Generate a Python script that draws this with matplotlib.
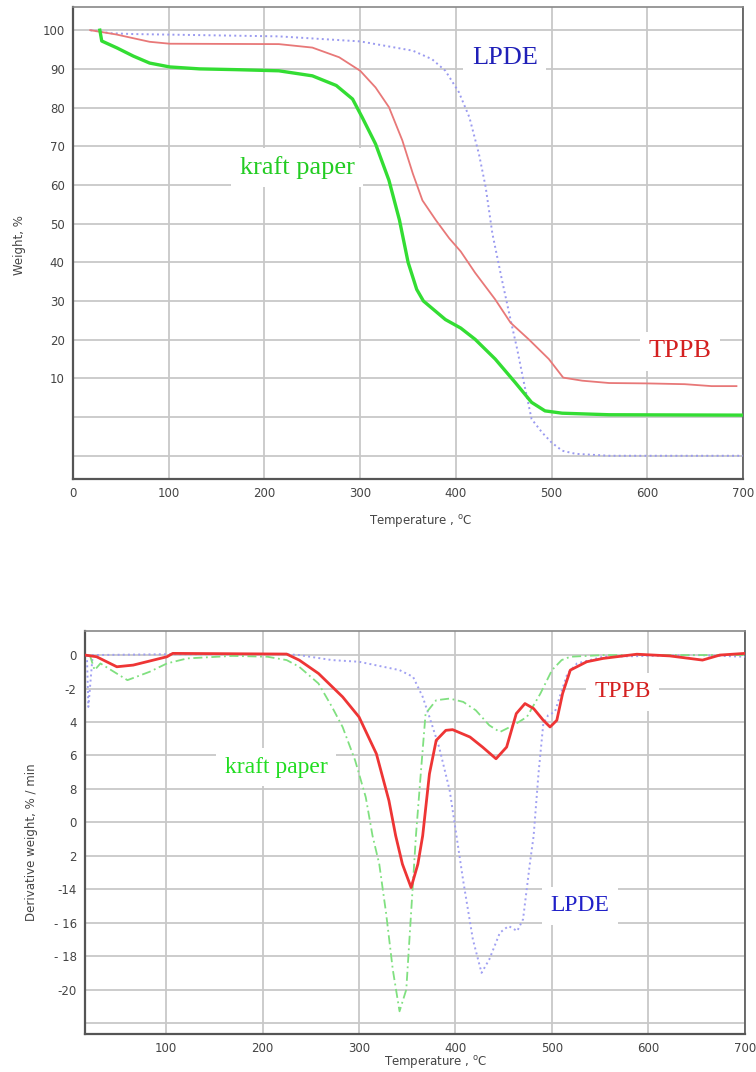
import matplotlib
matplotlib.use("Agg")
import matplotlib.pyplot as plt

# TG curves (temperature degC, weight %)
kraft_tg_t = [28, 30, 46, 63, 80, 101, 132, 170, 215, 250, 275, 292, 302, 316, 330, 341, 350, 359,
              366, 389, 405, 420, 441, 462, 479, 493, 511, 560, 700]
kraft_tg_w = [100, 97.2, 95.4, 93.3, 91.5, 90.5, 90.0, 89.8, 89.5, 88.2, 85.7, 82.2, 77.5, 70.6, 61.2,
              50.9, 40.0, 33.0, 30.0, 25.2, 23.0, 20.1, 15.0, 8.9, 3.8, 1.6, 1.0, 0.6, 0.5]

tppb_tg_t = [18, 45, 80, 101, 215, 250, 278, 300, 316, 330, 344, 355, 365, 379, 393, 405, 420, 441,
             457, 476, 497, 512, 532, 560, 600, 639, 667, 693]
tppb_tg_w = [100, 98.9, 97.0, 96.5, 96.4, 95.5, 93.0, 89.5, 85.2, 80.1, 71.5, 62.9, 56.0, 50.9, 46.2,
             42.8, 37.3, 30.4, 24.4, 20.1, 15.0, 10.2, 9.4, 8.8, 8.7, 8.5, 8.0, 8.0]

lpde_tg_t = [18, 40, 63, 215, 300, 355, 375, 389, 403, 414, 424, 431, 438, 448, 457, 464, 471, 479,
             490, 500, 511, 525, 560, 700]
lpde_tg_w = [100, 99.2, 99.0, 98.4, 97.1, 94.7, 92.5, 89.5, 84.0, 77.5, 68.0, 59.5, 47.5, 35.5, 25.2,
             17.5, 8.9, -0.5, -4.0, -6.6, -8.7, -9.5, -10.0, -10.0]

# DTG curves (temperature degC, derivative weight %/min)
tppb_dtg_t = [16, 28, 49, 66, 101, 107, 225, 238, 258, 283, 300, 318, 331, 338, 345, 354, 361, 366,
              373, 380, 390, 397, 415, 428, 442, 453, 463, 472, 481, 491, 498, 505, 508, 511, 519,
              536, 553, 588, 622, 656, 674, 700]
tppb_dtg_d = [0.0, -0.1, -0.7, -0.6, -0.1, 0.1, 0.06, -0.3, -1.1, -2.5, -3.7, -5.9, -8.7, -10.8,
              -12.5, -13.9, -12.5, -10.8, -7.1, -5.1, -4.5, -4.46, -4.9, -5.5, -6.2, -5.5, -3.5,
              -2.9, -3.2, -3.9, -4.3, -3.9, -3.1, -2.3, -0.9, -0.4, -0.2, 0.05, -0.05, -0.3, 0.0, 0.1]

kraft_dtg_t = [21, 26, 32, 60, 83, 101, 122, 169, 205, 225, 238, 258, 272, 283, 296, 307, 314, 321,
               328, 335, 342, 349, 354, 359, 364, 369, 380, 394, 408, 421, 435, 446, 460, 474, 488,
               500, 510, 519, 553, 700]
kraft_dtg_d = [0.0, -0.9, -0.5, -1.5, -1.0, -0.5, -0.2, -0.05, -0.1, -0.3, -0.7, -1.7, -3.1, -4.3,
               -6.3, -8.5, -10.8, -12.5, -15.4, -18.8, -21.3, -20.0, -15.4, -10.8, -7.1, -3.5, -2.7,
               -2.6, -2.8, -3.3, -4.2, -4.6, -4.2, -3.7, -2.3, -0.9, -0.3, -0.1, 0.0, 0.0]

lpde_dtg_t = [18, 19.5, 24, 100, 225, 238, 272, 300, 342, 356, 366, 373, 383, 394, 401, 408, 418,
              427, 435, 446, 455, 464, 470, 477, 481, 486, 491, 496, 503, 508, 516, 526, 553, 650, 700]
lpde_dtg_d = [0.0, -3.1, 0.0, 0.05, 0.05, 0.0, -0.3, -0.4, -0.9, -1.3, -2.5, -3.7, -5.5, -8.1,
              -10.8, -13.5, -17.0, -19.0, -18.2, -16.6, -16.2, -16.5, -15.8, -12.5, -10.8, -7.1,
              -4.1, -3.6, -3.4, -2.5, -1.1, -0.5, -0.1, 0.0, -0.1]

tg_yticks = list(range(-10, 101, 10))
tg_ylabels = ['', ''] + [str(v) for v in range(10, 101, 10)]
dtg_yticks = list(range(0, -21, -2))
dtg_ylabels = ['0', '-2', '4', '6', '8', '0', '2', '-14', '- 16', '- 18', '-20']

fig = plt.figure(figsize=(7.56, 10.72), dpi=100)
ax1 = fig.add_axes([0.0966, 0.5532, 0.8864, 0.4403])
ax2 = fig.add_axes([0.1124, 0.0354, 0.873, 0.376])

grid_kw = dict(color='#c8c8c8', linewidth=1.3)
lbl_font = dict(family='Liberation Serif', fontsize=19)
box = dict(facecolor='white', edgecolor='none', pad=6)

# Top: TG
ax1.plot(lpde_tg_t, lpde_tg_w, color='#9a9af0', linestyle=':', linewidth=1.4, zorder=3)
ax1.plot(tppb_tg_t, tppb_tg_w, color='#e87878', linewidth=1.3, zorder=3)
ax1.plot(kraft_tg_t, kraft_tg_w, color='#33dd33', linewidth=2.4, zorder=4)
ax1.set_xlim(0, 700)
ax1.set_ylim(-16, 106)
ax1.set_xticks(range(0, 701, 100))
ax1.set_yticks(tg_yticks)
ax1.set_yticklabels(tg_ylabels)
ax1.grid(True, **grid_kw)
ax1.set_axisbelow(True)
ax1.text(234, 64.5, 'kraft paper', color='#22cc22', ha='center', va='center', bbox=box, zorder=2, **lbl_font)
ax1.text(451, 92.8, 'LPDE', color='#2020b8', ha='center', va='center', bbox=box, zorder=2, **lbl_font)
ax1.text(634, 17, 'TPPB', color='#d42020', ha='center', va='center', bbox=box, zorder=2, **lbl_font)

# Bottom: DTG
ax2.plot(lpde_dtg_t, lpde_dtg_d, color='#a0a0f2', linestyle=':', linewidth=1.4, zorder=3)
ax2.plot(kraft_dtg_t, kraft_dtg_d, color='#80e080', linestyle=(0, (5, 2, 1, 2)), linewidth=1.3, zorder=3)
ax2.plot(tppb_dtg_t, tppb_dtg_d, color='#ee3535', linewidth=2.0, zorder=4)
ax2.set_xlim(16, 700)
ax2.set_ylim(-22.66, 1.44)
ax2.set_xticks(range(100, 701, 100))
ax2.set_yticks(dtg_yticks + [-22])
ax2.set_yticklabels(dtg_ylabels + [''])
ax2.grid(True, **grid_kw)
ax2.set_axisbelow(True)
lbl_font2 = dict(family='Liberation Serif', fontsize=17)
ax2.text(214, -6.7, 'kraft paper', color='#22dd22', ha='center', va='center', bbox=box, zorder=2, **lbl_font2)
ax2.text(573, -2.2, 'TPPB', color='#d42020', ha='center', va='center', bbox=box, zorder=2, **lbl_font2)
ax2.text(529, -15.0, 'LPDE', color='#2020c8', ha='center', va='center', bbox=box, zorder=2, **lbl_font2)

for ax in (ax1, ax2):
    ax.tick_params(length=0, labelsize=8.5, labelcolor='#444444', pad=6)
    for s in ax.spines.values():
        s.set_color('#555555')
        s.set_linewidth(1.2)
    ax.spines['left'].set_linewidth(1.6)
    ax.spines['bottom'].set_linewidth(1.6)
    ax.spines['top'].set_color('#888888')

fig.text(420 / 756, 1 - 522 / 1072, 'Temperature , $^{\\rm o}$C', ha='center', va='center',
         fontsize=8.5, color='#444444')
fig.text(435 / 756, 1 - 1063 / 1072, 'Temperature , $^{\\rm o}$C', ha='center', va='center',
         fontsize=8.5, color='#444444')
fig.text(20 / 756, 1 - 245 / 1072, 'Weight, %', rotation=90, ha='center', va='center',
         fontsize=8.5, color='#444444')
fig.text(32 / 756, 1 - 842 / 1072, 'Derivative weight, % / min', rotation=90, ha='center', va='center',
         fontsize=8.5, color='#444444')

fig.savefig('out.png', dpi=100)
